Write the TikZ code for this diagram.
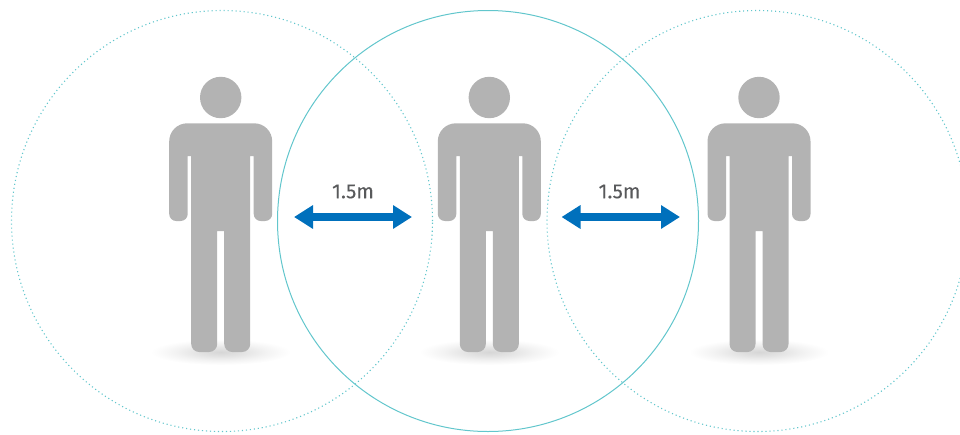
\documentclass[tikz,border=0pt]{standalone}
\usepackage{fontspec}
\setmainfont{Fira Sans}[FakeBold=0.25]
\usetikzlibrary{arrows.meta}
\definecolor{bodygrey}{HTML}{B3B3B3}
\definecolor{ringteal}{HTML}{62C6CC}
\definecolor{arrowblue}{HTML}{0070BC}
\definecolor{labelgrey}{HTML}{58595B}
\pgfdeclareradialshading{floorshade}{\pgfpoint{0bp}{0bp}}{
  color(0bp)=(black!16);color(8bp)=(black!11);color(16bp)=(black!5);color(22bp)=(black!1.5);color(25bp)=(white);color(50bp)=(white)}
\tikzset{
  ringsolid/.style={draw=ringteal,line width=1pt},
  ringdot/.style={draw=ringteal,line width=1.1pt,dash pattern=on 1.1pt off 2.9pt},
  bodyfill/.style={fill=bodygrey,draw=none},
  span/.style={draw=arrowblue,line width=8.3pt,{Triangle[length=19pt,width=22.5pt]}-{Triangle[length=19pt,width=22.5pt]},shorten <=0pt,shorten >=0pt},
  spanlabel/.style={text=labelgrey,font=\fontsize{20.5pt}{22pt}\selectfont,inner sep=0pt},
  person/.pic={
    \shade[shading=floorshade,yscale=0.26,xscale=1.4] (0,1354) circle (50pt);
    \fill[bodyfill] (0,97.5) circle (20.7pt);
    \fill[bodyfill]
      (0,231) -- (-3.5,231) [rounded corners=8pt] -- (-3.5,352) -- (-29.5,352)
      [sharp corners] -- (-29.5,156) -- (-33,156) [rounded corners=7pt] -- (-33,221) -- (-51.5,221)
      [rounded corners=18pt] -- (-51.5,123.3) -- (51.5,123.3)
      [rounded corners=7pt] -- (51.5,221) -- (33,221)
      [sharp corners] -- (33,156) -- (29.5,156) [rounded corners=8pt] -- (29.5,352) -- (3.5,352)
      [sharp corners] -- (3.5,231) -- cycle;
  }
}
\begin{document}
\begin{tikzpicture}[x=1pt,y=-1pt]
\useasboundingbox (0,0) rectangle (960,434);
\clip (0,0) rectangle (960,434);
\coordinate (ca) at (222,221);
\coordinate (cb) at (488,221);
\coordinate (cc) at (757.5,221);
\draw[ringdot] (ca) circle (210.5pt);
\draw[ringdot] (cc) circle (210.5pt);
\draw[ringsolid] (cb) circle (210.5pt);
\pic at (220.7,0) {person};
\pic at (489.3,0) {person};
\pic at (759,0) {person};
\coordinate (a1) at (294,217);
\coordinate (a2) at (412,217);
\coordinate (b1) at (561.5,217);
\coordinate (b2) at (680,217);
\draw[span] (a1) -- (a2);
\draw[span] (b1) -- (b2);
\node[spanlabel] (la) at (353,191.5) {1.5m};
\node[spanlabel] (lb) at (619.5,191.5) {1.5m};
\end{tikzpicture}
\end{document}
